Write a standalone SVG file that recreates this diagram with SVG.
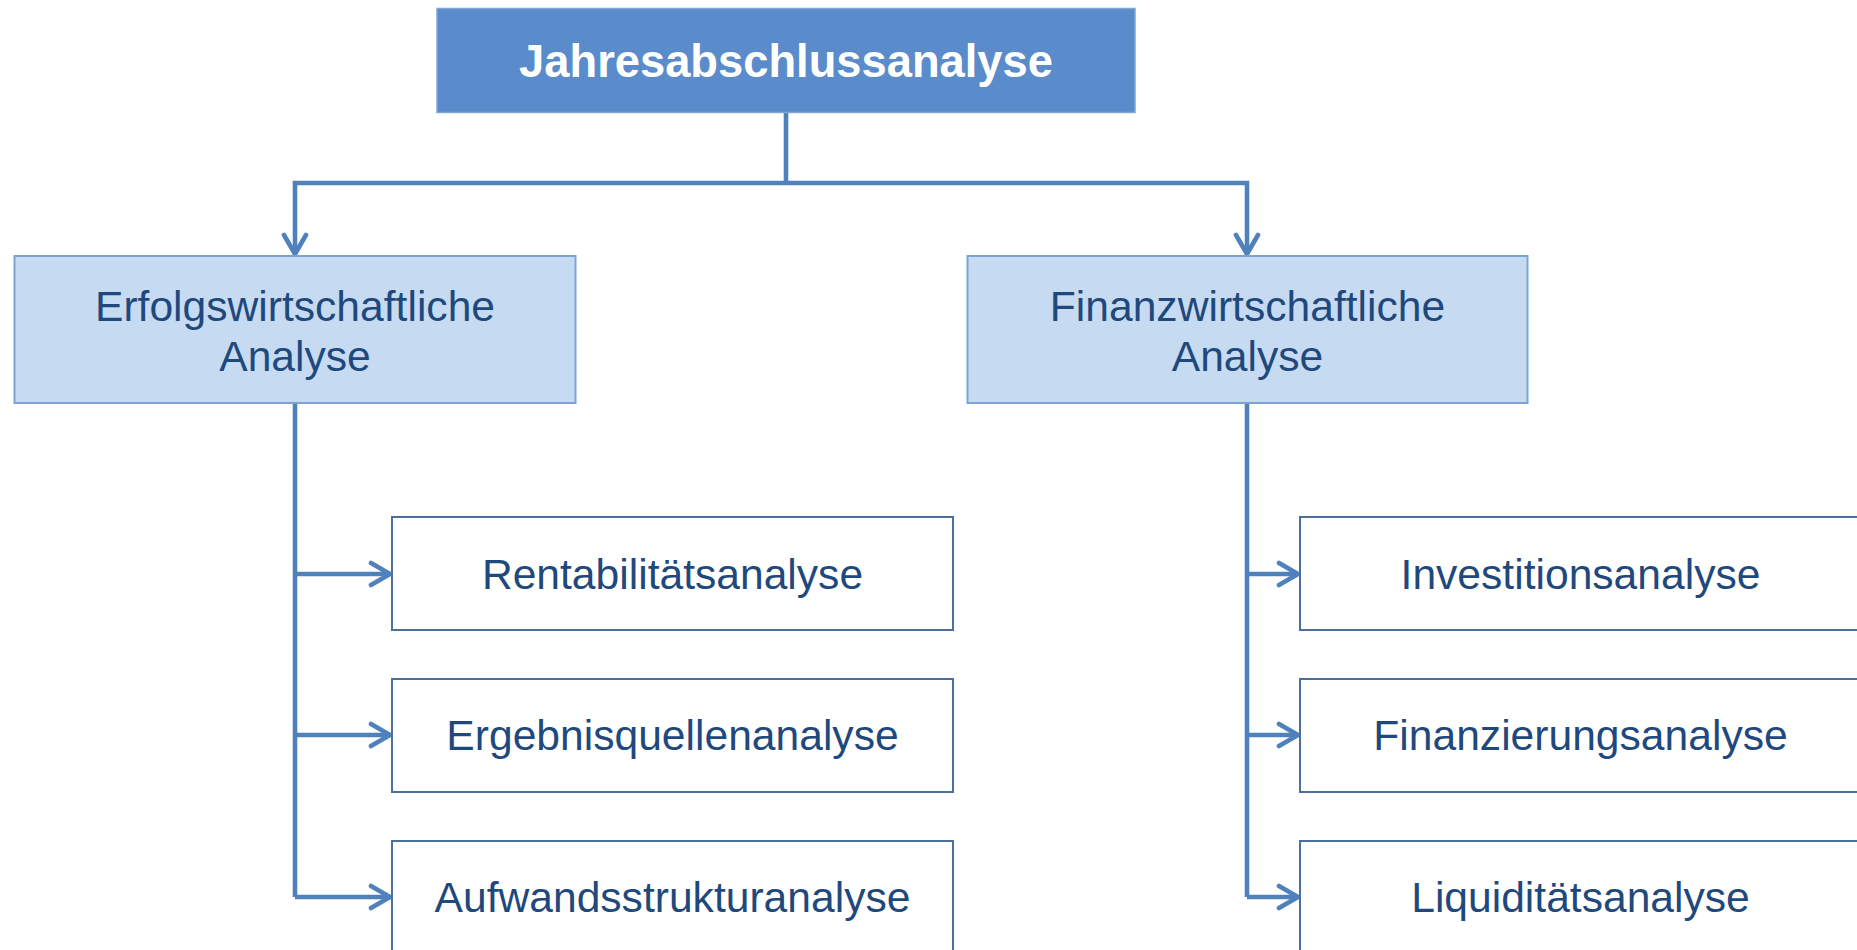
<svg xmlns="http://www.w3.org/2000/svg" width="1857" height="950" viewBox="0 0 1857 950">
  <style>
    .root rect { fill: #5A8BCA; stroke: #7FA7D8; stroke-width: 1.5; }
    .root text { fill: #FFFFFF; font-family: "Liberation Sans", Arial, sans-serif; font-weight: bold; font-size: 45.3px; text-anchor: middle; }
    .mid rect { fill: #C6DBF2; stroke: #7BA3D5; stroke-width: 2; }
    .leaf rect { fill: #FFFFFF; stroke: #4B6F9E; stroke-width: 2; }
    .mid text, .leaf text { fill: #1F497D; font-family: "Liberation Sans", Arial, sans-serif; font-size: 42.6px; text-anchor: middle; }
    .conn { fill: none; stroke: #4F81BD; stroke-width: 4.6; stroke-linejoin: miter; }
  </style>
  <defs>
    <marker id="arrow" markerUnits="userSpaceOnUse" viewBox="-24 -14 28 28" refX="0" refY="0" markerWidth="28" markerHeight="28" orient="auto">
      <path d="M-19,-11 L0,0 L-19,11" fill="none" stroke="#4F81BD" stroke-width="4.6" stroke-linecap="round" stroke-linejoin="round"/>
    </marker>
  </defs>
  <rect width="1857" height="950" fill="#FFFFFF"/>

  <!-- connectors: trunk lines with open chevron heads -->
  <g id="connectors" class="conn">
    <path d="M786,112 V183"/>
    <path d="M786,183 H295 V254" marker-end="url(#arrow)"/>
    <path d="M786,183 H1247 V254" marker-end="url(#arrow)"/>
    <path d="M295,403 V897"/>
    <path d="M295,574 H390" marker-end="url(#arrow)"/>
    <path d="M295,735 H390" marker-end="url(#arrow)"/>
    <path d="M295,897 H390" marker-end="url(#arrow)"/>
    <path d="M1247,403 V897"/>
    <path d="M1247,574 H1298" marker-end="url(#arrow)"/>
    <path d="M1247,735 H1298" marker-end="url(#arrow)"/>
    <path d="M1247,897 H1298" marker-end="url(#arrow)"/>
  </g>

  <g id="jahresabschlussanalyse" class="root">
    <rect x="437" y="8.5" width="698" height="104"/>
    <text x="786" y="77">Jahresabschlussanalyse</text>
  </g>

  <g id="erfolgswirtschaftliche" class="mid">
    <rect x="14.5" y="256" width="561" height="147"/>
    <text x="295" y="321">Erfolgswirtschaftliche</text>
    <text x="295" y="371">Analyse</text>
  </g>

  <g id="finanzwirtschaftliche" class="mid">
    <rect x="967.5" y="256" width="560" height="147"/>
    <text x="1247.5" y="321">Finanzwirtschaftliche</text>
    <text x="1247.5" y="371">Analyse</text>
  </g>

  <g id="rentabilitaet" class="leaf">
    <rect x="392" y="517" width="561" height="113"/>
    <text x="672.5" y="589">Rentabilitätsanalyse</text>
  </g>
  <g id="ergebnisquellen" class="leaf">
    <rect x="392" y="679" width="561" height="113"/>
    <text x="672.5" y="750">Ergebnisquellenanalyse</text>
  </g>
  <g id="aufwandsstruktur" class="leaf">
    <rect x="392" y="841" width="561" height="113"/>
    <text x="672.5" y="912">Aufwandsstrukturanalyse</text>
  </g>

  <g id="investition" class="leaf">
    <rect x="1300" y="517" width="561" height="113"/>
    <text x="1580.5" y="589">Investitionsanalyse</text>
  </g>
  <g id="finanzierung" class="leaf">
    <rect x="1300" y="679" width="561" height="113"/>
    <text x="1580.5" y="750">Finanzierungsanalyse</text>
  </g>
  <g id="liquiditaet" class="leaf">
    <rect x="1300" y="841" width="561" height="113"/>
    <text x="1580.5" y="912">Liquiditätsanalyse</text>
  </g>
</svg>
